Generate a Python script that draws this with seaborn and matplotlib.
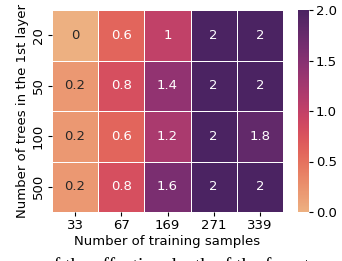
import pandas as pd
import matplotlib
matplotlib.use("Agg")
import matplotlib.pyplot as plt
import seaborn as sns

# data
n_trees = ["20", "50", "100", "500"]
n_samples = ["33", "67", "169", "271", "339"]
row_20 = [0, 0.6, 1, 2, 2]
row_50 = [0.2, 0.8, 1.4, 2, 2]
row_100 = [0.2, 0.6, 1.2, 2, 1.8]
row_500 = [0.2, 0.8, 1.6, 2, 2]

df = pd.DataFrame([row_20, row_50, row_100, row_500], index=n_trees, columns=n_samples)

fig = plt.figure(figsize=(3.42, 2.61), dpi=100)
ax = fig.add_axes([52 / 342, 1 - 212 / 261, 231 / 342, 202 / 261])
cax = fig.add_axes([298 / 342, 1 - 212 / 261, 11 / 342, 202 / 261])

sns.heatmap(df, ax=ax, cbar_ax=cax, cmap="flare", vmin=0, vmax=2,
            annot=True, fmt="g", linewidths=0.6, linecolor="white",
            annot_kws={"fontsize": 9.5})
cax.set_yticks([0, 0.5, 1.0, 1.5, 2.0])
cax.set_yticklabels(["0.0", "0.5", "1.0", "1.5", "2.0"])
cax.tick_params(labelsize=9.5, length=3, pad=2)
for s in cax.spines.values():
    s.set_visible(False)

ax.set_xlabel("Number of training samples", fontsize=9.5, labelpad=2)
ax.set_ylabel("Number of trees in the 1st layer", fontsize=9.5, labelpad=2)
ax.tick_params(labelsize=9.5, length=3, pad=2)
plt.setp(ax.get_xticklabels(), rotation=0)
plt.setp(ax.get_yticklabels(), rotation=90, va="center")

# cropped caption line at the bottom (only the tops of the tall letters show)
fig.text(44 / 342, 0.016, "of the effective depth of the forest", family="Liberation Serif",
         fontsize=14, ha="left", va="top")

fig.savefig("out.png", dpi=100)
